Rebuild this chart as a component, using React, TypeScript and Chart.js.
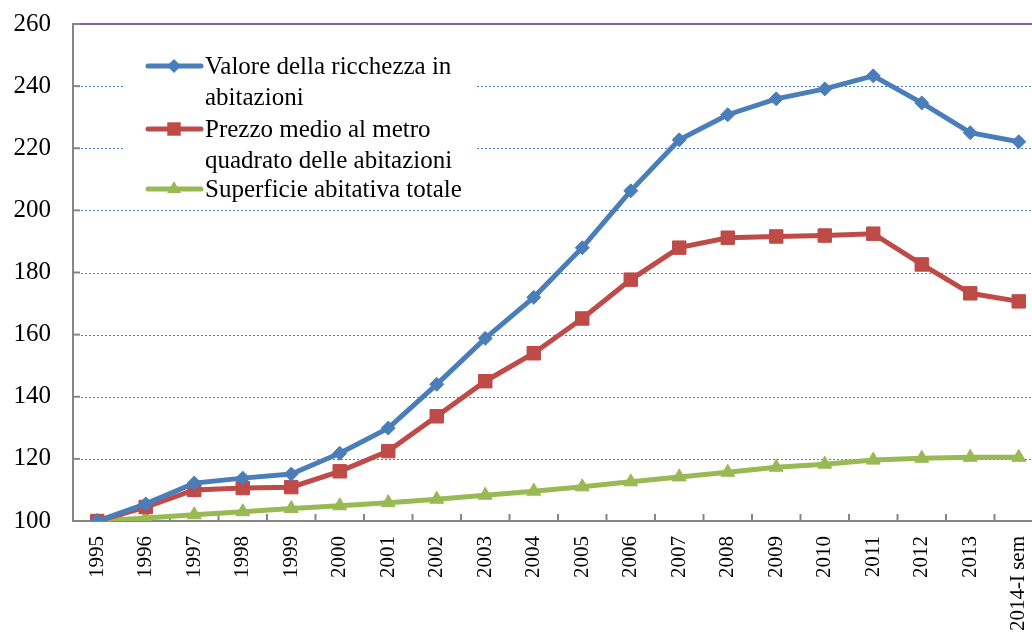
import React, { useEffect, useRef } from "react";
import { Chart, registerables } from "chart.js";

Chart.register(...registerables);

const categories = [
  "1995", "1996", "1997", "1998", "1999", "2000", "2001", "2002", "2003", "2004",
  "2005", "2006", "2007", "2008", "2009", "2010", "2011", "2012", "2013", "2014-I sem",
];

const valoreRicchezza = [
  100, 105.5, 112.2, 113.8, 115.1, 121.8, 129.9, 144, 158.8, 172,
  188, 206.3, 222.7, 230.8, 235.9, 239.1, 243.3, 234.6, 225, 222.1,
];

const prezzoMedio = [
  100, 104.5, 110, 110.6, 110.9, 116, 122.5, 133.7, 145, 154,
  165.2, 177.7, 188, 191.2, 191.6, 191.9, 192.5, 182.6, 173.3, 170.7,
];

const superficie = [
  100, 101, 102, 103, 104, 104.9, 105.9, 107, 108.3, 109.6,
  111, 112.6, 114.2, 115.7, 117.3, 118.3, 119.6, 120.2, 120.5, 120.5,
];

const yTicks = [100, 120, 140, 160, 180, 200, 220, 240, 260];

const seriesNames = [
  ["Valore della ricchezza in", "abitazioni"],
  ["Prezzo medio al metro", "quadrato delle abitazioni"],
  ["Superficie abitativa totale"],
];

const BLUE = "#4a7ebb";
const RED = "#be4b48";
const GREEN = "#98b954";
const FONT = "'Liberation Serif', 'Times New Roman', serif";

function drawMarker(ctx: CanvasRenderingContext2D, style: string, r: number, cx: number, cy: number) {
  ctx.beginPath();
  if (style === "rectRot") {
    ctx.moveTo(cx, cy - r);
    ctx.lineTo(cx + r, cy);
    ctx.lineTo(cx, cy + r);
    ctx.lineTo(cx - r, cy);
  } else if (style === "rect") {
    const s = r * Math.SQRT1_2;
    ctx.rect(cx - s, cy - s, 2 * s, 2 * s);
  } else {
    const h = (r * 3) / 2;
    const side = r * Math.sqrt(3);
    ctx.moveTo(cx, cy - r);
    ctx.lineTo(cx + side / 2, cy + h - r);
    ctx.lineTo(cx - side / 2, cy + h - r);
  }
  ctx.closePath();
  ctx.fill();
}

const decorPlugin = {
  id: "decor",
  beforeDatasetsDraw(chart: any) {
    const { ctx, chartArea, scales } = chart;
    const y = scales.y;
    const x = scales.x;
    const W = chart.width;
    const oy = chartArea.top - 23; // legend is positioned relative to the plot top
    ctx.save();
    // grid lines
    ctx.strokeStyle = BLUE;
    ctx.lineWidth = 1;
    ctx.setLineDash([2, 2]);
    yTicks.forEach((v) => {
      if (v === 100 || v === 260) return;
      const py = Math.round(y.getPixelForValue(v)) + 0.5;
      ctx.beginPath();
      ctx.moveTo(chartArea.left + 8, py);
      ctx.lineTo(W, py);
      ctx.stroke();
    });
    ctx.setLineDash([]);
    // top line
    const topY = y.getPixelForValue(260);
    ctx.strokeStyle = "#8064a2";
    ctx.lineWidth = 2;
    ctx.beginPath();
    ctx.moveTo(chartArea.left + 7, topY);
    ctx.lineTo(W, topY);
    ctx.stroke();
    // axes
    ctx.strokeStyle = "#868686";
    ctx.lineWidth = 2;
    const bottomY = y.getPixelForValue(100);
    ctx.beginPath();
    ctx.moveTo(chartArea.left, topY - 1);
    ctx.lineTo(chartArea.left, bottomY);
    ctx.lineTo(W, bottomY);
    ctx.stroke();
    // y ticks (inside)
    yTicks.forEach((v) => {
      if (v === 100) return;
      const py = y.getPixelForValue(v);
      ctx.beginPath();
      ctx.moveTo(chartArea.left, py);
      ctx.lineTo(chartArea.left + 7, py);
      ctx.stroke();
    });
    // x ticks at category boundaries (inside)
    const n = categories.length;
    const step = (x.getPixelForValue(n - 1) - x.getPixelForValue(0)) / (n - 1);
    for (let i = 1; i <= n; i++) {
      const px = x.getPixelForValue(i) - step / 2;
      ctx.beginPath();
      ctx.moveTo(px, bottomY);
      ctx.lineTo(px, bottomY - 7);
      ctx.stroke();
    }
    // legend box
    ctx.fillStyle = "#ffffff";
    ctx.fillRect(125, oy + 40, 352, 168);
    const rows = [
      { color: BLUE, style: "rectRot", r: 7, y: oy + 65 },
      { color: RED, style: "rect", r: 9.5, y: oy + 128 },
      { color: GREEN, style: "triangle", r: 8, y: oy + 188 },
    ];
    ctx.font = `25px ${FONT}`;
    ctx.textBaseline = "middle";
    ctx.textAlign = "left";
    rows.forEach((row, i) => {
      ctx.strokeStyle = row.color;
      ctx.lineWidth = 5;
      ctx.lineCap = "round";
      ctx.beginPath();
      ctx.moveTo(148, row.y);
      ctx.lineTo(201, row.y);
      ctx.stroke();
      ctx.lineCap = "butt";
      ctx.fillStyle = row.color;
      drawMarker(ctx, row.style, row.r, 174, row.y);
      ctx.fillStyle = "#000000";
      seriesNames[i].forEach((t, j) => {
        ctx.fillText(t, 205, row.y + 1 + j * 31);
      });
    });
    ctx.restore();
  },
};

export default function App() {
  const ref = useRef<HTMLCanvasElement>(null);
  useEffect(() => {
    if (!ref.current) return;
    const chart = new Chart(ref.current, {
      type: "line",
      data: {
        labels: categories,
        datasets: [
          {
            label: seriesNames[0].join(" "),
            data: valoreRicchezza,
            borderColor: BLUE,
            backgroundColor: BLUE,
            borderWidth: 5,
            pointStyle: "rectRot",
            pointRadius: 7,
            pointBorderWidth: 1,
          },
          {
            label: seriesNames[1].join(" "),
            data: prezzoMedio,
            borderColor: RED,
            backgroundColor: RED,
            borderWidth: 5,
            pointStyle: "rect",
            pointRadius: 9.5,
            pointBorderWidth: 1,
          },
          {
            label: seriesNames[2][0],
            data: superficie,
            borderColor: GREEN,
            backgroundColor: GREEN,
            borderWidth: 5,
            pointStyle: "triangle",
            pointRadius: 8,
            pointBorderWidth: 1,
          },
        ],
      },
      options: {
        responsive: false,
        animation: false,
        devicePixelRatio: 1,
        layout: { padding: { top: 9, right: 17, left: 0, bottom: 0 } },
        plugins: { legend: { display: false }, tooltip: { enabled: false } },
        elements: { line: { tension: 0 } },
        scales: {
          x: {
            offset: true,
            grid: { display: false, drawTicks: false },
            border: { display: false },
            ticks: {
              minRotation: 90,
              maxRotation: 90,
              autoSkip: false,
              padding: 15,
              color: "#000000",
              font: { family: FONT, size: 21 },
            },
            afterFit: (s: any) => {
              s.height = 116;
            },
          },
          y: {
            min: 100,
            max: 260,
            grid: { display: false, drawTicks: false },
            border: { display: false },
            ticks: {
              stepSize: 20,
              padding: 22,
              color: "#000000",
              font: { family: FONT, size: 25 },
            },
            afterFit: (s: any) => {
              s.width = 73;
            },
          },
        },
      },
      plugins: [decorPlugin],
    });
    return () => chart.destroy();
  }, []);
  return (
    <div
      style={{
        position: "absolute",
        left: 0,
        top: 0,
        width: 1032,
        height: 637,
        overflow: "hidden",
        background: "#ffffff",
      }}
    >
      <canvas
        ref={ref}
        width={1060}
        height={650}
        style={{ display: "block", marginTop: -13 }}
      />
    </div>
  );
}
